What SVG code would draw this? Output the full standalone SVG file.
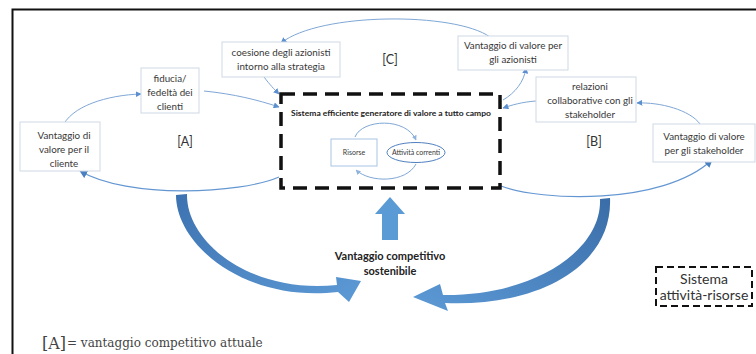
<svg xmlns="http://www.w3.org/2000/svg" width="756" height="354" viewBox="0 0 756 354">
  <style>
    .lbl { font-family: Lato, "Liberation Sans", sans-serif; font-size: 9.8px; fill: #383838; text-anchor: middle; }
    .tag { font-family: Lato, "Liberation Sans", sans-serif; font-size: 12.5px; fill: #333; text-anchor: middle; }
    .small { font-size: 7px; }
    .legend { font-size: 14px; }
    .box { fill: #fff; stroke: #cfd9e6; stroke-width: 1; }
    .conn { fill: none; stroke: #7fa7d6; stroke-width: 1; }
    .conn-strong { fill: none; stroke: #6497d2; stroke-width: 1.2; }
    .bold { font-family: Lato, "Liberation Sans", sans-serif; font-weight: bold; fill: #222; text-anchor: middle; }
  </style>
  <defs>
    <marker id="tip" viewBox="0 0 10 10" refX="9" refY="5" markerWidth="6" markerHeight="6" markerUnits="userSpaceOnUse" orient="auto">
      <path d="M0,0 L10,5 L0,10 Z" fill="#5b8fd0"/>
    </marker>
    <marker id="tipBig" viewBox="0 0 10 10" refX="9" refY="5" markerWidth="8" markerHeight="8" markerUnits="userSpaceOnUse" orient="auto">
      <path d="M0,0 L10,5 L0,10 Z" fill="#4a80c2"/>
    </marker>
    <marker id="tipSmall" viewBox="0 0 10 10" refX="9" refY="5" markerWidth="5" markerHeight="5" markerUnits="userSpaceOnUse" orient="auto">
      <path d="M0,0 L10,5 L0,10 Z" fill="#8fb3dc"/>
    </marker>
    <linearGradient id="gL" x1="0" y1="0" x2="1" y2="1">
      <stop offset="0" stop-color="#3d72b0"/>
      <stop offset="1" stop-color="#5c9ad6"/>
    </linearGradient>
    <linearGradient id="gR" x1="1" y1="0" x2="0" y2="1">
      <stop offset="0" stop-color="#3a6da8"/>
      <stop offset="1" stop-color="#5c9ad6"/>
    </linearGradient>
  </defs>

  <!-- outer frame -->
  <path d="M12.5,354 V9.5 H756" fill="none" stroke="#111" stroke-width="2"/>

  <!-- connectors -->
  <g id="connectors">
    <!-- loop A -->
    <path class="conn" d="M62,128 C70,106 108,95 141,94" marker-end="url(#tip)"/>
    <path class="conn" d="M204,91 C234,94 258,100 279,107" marker-end="url(#tip)"/>
    <path class="conn-strong" d="M279,177 C240,194 128,199 80,171" marker-end="url(#tipBig)"/>
    <!-- loop C -->
    <path class="conn" d="M490,37 C455,12 320,12 281,43" marker-end="url(#tip)"/>
    <path class="conn" d="M264,77 C270,85 274,89 279,94" marker-end="url(#tip)"/>
    <path class="conn" d="M503,100 C515,93 524,82 526,68" marker-end="url(#tip)"/>
    <!-- loop B -->
    <path class="conn" d="M536,101 C522,102 512,105 503,108" marker-end="url(#tip)"/>
    <path class="conn" d="M700,124 C690,110 660,102 637,103" marker-end="url(#tip)"/>
    <path class="conn-strong" d="M501,186 C540,201 662,206 712,160" marker-end="url(#tipBig)"/>
    <!-- resources / activities cycle -->
    <path class="conn" stroke="#a9c3e4" d="M355,137 C362,119 406,117 416,140" marker-end="url(#tipSmall)"/>
    <path class="conn" stroke="#a9c3e4" d="M416,164 C406,183 370,183 356,170" marker-end="url(#tipSmall)"/>
    <!-- sustainable advantage arrows -->
    <path d="M176,195 C176,245 245,303 338,292 L349,302 L361,281 L336,277 L337,285 C250,294 186,242 187,194 Z" fill="url(#gL)"/>
    <path d="M600,199 C602,250 535,296 443,295 L440,284 L413,297 L448,311 L445,303 C545,307 613,262 610,198 Z" fill="url(#gR)"/>
    <path d="M390,197 L405,214 L398,214 L398,240 L382,240 L382,214 L375,214 Z" fill="#5b9bd5"/>
  </g>

  <!-- loop labels -->
  <text class="tag" x="185" y="146">[A]</text>
  <text class="tag" x="390" y="64">[C]</text>
  <text class="tag" x="594" y="146">[B]</text>

  <g id="cliente">
    <rect class="box" x="20" y="122" width="80" height="49" stroke="#e3e9f1"/>
    <text class="lbl" x="64" y="139">Vantaggio di</text>
    <text class="lbl" x="64" y="153">valore per il</text>
    <text class="lbl" x="64" y="167">cliente</text>
  </g>

  <g id="fiducia">
    <rect class="box" x="141" y="68" width="58" height="45"/>
    <text class="lbl" x="170" y="82">fiducia/</text>
    <text class="lbl" x="170" y="96">fedeltà dei</text>
    <text class="lbl" x="170" y="110">clienti</text>
  </g>

  <g id="coesione">
    <rect class="box" x="222" y="42" width="118" height="35"/>
    <text class="lbl" x="281" y="56">coesione degli azionisti</text>
    <text class="lbl" x="281" y="70">intorno alla strategia</text>
  </g>

  <g id="azionisti">
    <rect class="box" x="458" y="36" width="110" height="34"/>
    <text class="lbl" x="513" y="49">Vantaggio di valore per</text>
    <text class="lbl" x="513" y="63">gli azionisti</text>
  </g>

  <g id="relazioni">
    <rect class="box" x="536" y="77" width="100" height="45"/>
    <text class="lbl" x="590" y="90">relazioni</text>
    <text class="lbl" x="590" y="104">collaborative con gli</text>
    <text class="lbl" x="590" y="118">stakeholder</text>
  </g>

  <g id="stakeholder">
    <rect class="box" x="653" y="124" width="102" height="38"/>
    <text class="lbl" x="704" y="140">Vantaggio di valore</text>
    <text class="lbl" x="704" y="154">per gli stakeholder</text>
  </g>

  <g id="sistema">
    <rect x="281" y="94" width="219" height="94" fill="none" stroke="#111" stroke-width="3.5" stroke-dasharray="14 8"/>
    <text class="bold" x="391" y="116" font-size="8" textLength="200" lengthAdjust="spacingAndGlyphs">Sistema efficiente generatore di valore a tutto campo</text>
  </g>

  <g id="risorse">
    <rect x="331" y="139" width="46" height="27" fill="#fff" stroke="#a9c3e4" stroke-width="1"/>
    <text class="lbl small" x="354" y="155">Risorse</text>
  </g>

  <g id="attivita">
    <ellipse cx="416" cy="152.5" rx="29" ry="10" fill="#fff" stroke="#4f7fbf" stroke-width="1"/>
    <text class="lbl small" x="416" y="155">Attività correnti</text>
  </g>

  <g id="vantaggio-sostenibile">
    <text class="bold" x="390" y="260" font-size="11">Vantaggio competitivo</text>
    <text class="bold" x="390" y="275" font-size="11">sostenibile</text>
  </g>

  <g id="legenda-sistema">
    <rect x="656" y="267" width="96" height="39" fill="none" stroke="#111" stroke-width="2" stroke-dasharray="7 4"/>
    <text class="tag legend" x="704" y="284">Sistema</text>
    <text class="tag legend" x="704" y="300">attività-risorse</text>
  </g>

  <g id="legenda-a">
    <text x="42" y="349" font-family="'DejaVu Serif', 'Liberation Serif', serif" font-size="16" fill="#444">[A]</text>
    <text x="67" y="347" font-family="'DejaVu Serif', 'Liberation Serif', serif" font-size="12" fill="#444">= vantaggio competitivo attuale</text>
  </g>
</svg>
